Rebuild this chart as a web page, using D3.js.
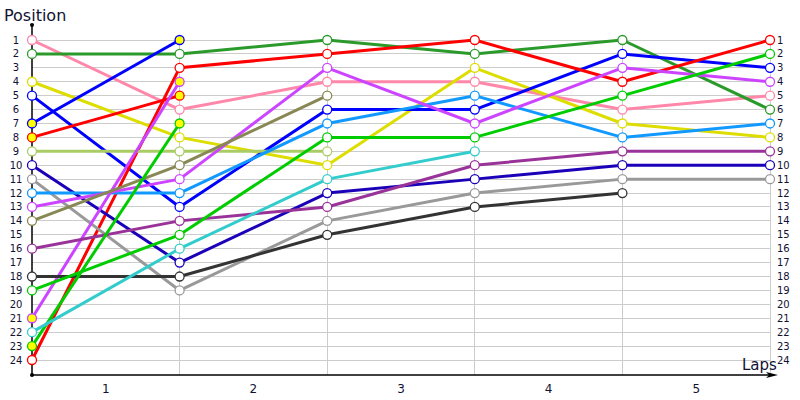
<!DOCTYPE html>
<html><head><meta charset="utf-8">
<script src="https://cdn.jsdelivr.net/npm/d3@7"></script>
<style>body{margin:0;background:#fff}svg{display:block}text{font-family:"DejaVu Sans",Verdana,sans-serif}</style>
</head><body><svg id="c" width="800" height="400"></svg>
<script>
const laps = [0,1,2,3,4,5];
const lapLabels = ["1","2","3","4","5"];
const positions = d3.range(1,25);
// series: positions at each lap boundary (start, after lap 1..5)
const seriesNames = ["pink","forest","yellow","blue","blueP","redP","red","ygreen","indigo","gray","lblue","violet","violetP","olive","purple","dark","green","greenP","cyan"];
const seriesColors = ["#ff88aa","#2a9a2a","#dddd00","#0000ff","#0000ff","#ff0000","#ff0000","#aacc66","#1a00b8","#999999","#1199ff","#cc44ff","#cc44ff","#888855","#993399","#333333","#00cc00","#00cc00","#33cccc"];
const seriesValues = [
  [1,6,4,4,6,5],
  [2,2,1,2,1,6],
  [4,8,10,3,7,8],
  [5,13,6,6,2,3],
  [7,1],
  [8,5],
  [24,3,2,1,4,1],
  [9,9,9],
  [10,17,12,11,10,10],
  [11,19,14,12,11,11],
  [12,12,7,5,8,7],
  [13,11,3,7,3,4],
  [21,4],
  [14,10,5],
  [16,14,13,10,9,9],
  [18,18,15,13,12],
  [19,15,8,8,5,2],
  [23,7],
  [22,16,11,9]
];
const pitSeries = ["blueP","redP","violetP","greenP"];

const svg = d3.select("#c");
const x = d3.scaleLinear().domain([0,5]).range([32,770]);
const y = d3.scaleLinear().domain([1,24]).range([40,360]);
const axisY = 375;

// horizontal grid
svg.append("g").selectAll("line").data(positions).join("line")
  .attr("x1",32).attr("x2",770).attr("y1",d=>y(d)).attr("y2",d=>y(d))
  .attr("stroke","#cccccc").attr("stroke-width",1).attr("shape-rendering","crispEdges");
// vertical grid
svg.append("g").selectAll("line").data(laps.slice(1)).join("line")
  .attr("x1",d=>x(d)).attr("x2",d=>x(d)).attr("y1",y(1)).attr("y2",axisY)
  .attr("stroke","#cccccc").attr("stroke-width",1).attr("shape-rendering","crispEdges");

// left labels
svg.append("g").selectAll("text").data(positions).join("text")
  .attr("x",16).attr("y",d=>y(d)).attr("dy","0.35em").attr("text-anchor","middle")
  .attr("font-size",10).attr("fill","#111133").text(d=>d);
// right labels
svg.append("g").selectAll("text").data(positions).join("text")
  .attr("x",777).attr("y",d=>y(d)).attr("dy","0.35em").attr("text-anchor","start")
  .attr("font-size",10).attr("fill","#111133").text(d=>d);
// lap labels
svg.append("g").selectAll("text").data(lapLabels).join("text")
  .attr("x",(d,i)=>(x(i)+x(i+1))/2).attr("y",393).attr("text-anchor","middle")
  .attr("font-size",12).attr("fill","#111133").text(d=>d);

// axes
svg.append("line").attr("x1",32).attr("x2",32).attr("y1",25).attr("y2",axisY).attr("stroke","#000").attr("stroke-width",1.5);
svg.append("circle").attr("cx",32).attr("cy",25).attr("r",2).attr("fill","#000");
svg.append("circle").attr("cx",32).attr("cy",axisY).attr("r",2).attr("fill","#000");
svg.append("line").attr("x1",32).attr("x2",772).attr("y1",axisY).attr("y2",axisY).attr("stroke","#000").attr("stroke-width",1.5);
svg.append("path").attr("d",`M766,${axisY-3} L778,${axisY} L766,${axisY+3} L769,${axisY} Z`).attr("fill","#000");

svg.append("text").attr("x",4).attr("y",21).attr("font-size",16).attr("fill","#111133").text("Position");
svg.append("text").attr("x",742).attr("y",370).attr("font-size",15).attr("fill","#111133").text("Laps");

const line = d3.line().x((d,i)=>x(i)).y(d=>y(d));
const data = seriesNames.map((n,i)=>({name:n,color:seriesColors[i],vals:seriesValues[i],pit:pitSeries.includes(n)}));

svg.append("g").selectAll("path").data(data).join("path")
  .attr("d",d=>line(d.vals)).attr("fill","none").attr("stroke",d=>d.color)
  .attr("stroke-width",3).attr("stroke-linejoin","round");

const pts = data.flatMap(d=>d.vals.map((v,i)=>({i,v,color:d.color,pit:d.pit})));
svg.append("g").selectAll("circle").data(pts).join("circle")
  .attr("cx",d=>x(d.i)).attr("cy",d=>y(d.v)).attr("r",4.5)
  .attr("fill",d=>d.pit?"#ffff00":"#fff").attr("stroke",d=>d.color).attr("stroke-width",1.3);
</script></body></html>
